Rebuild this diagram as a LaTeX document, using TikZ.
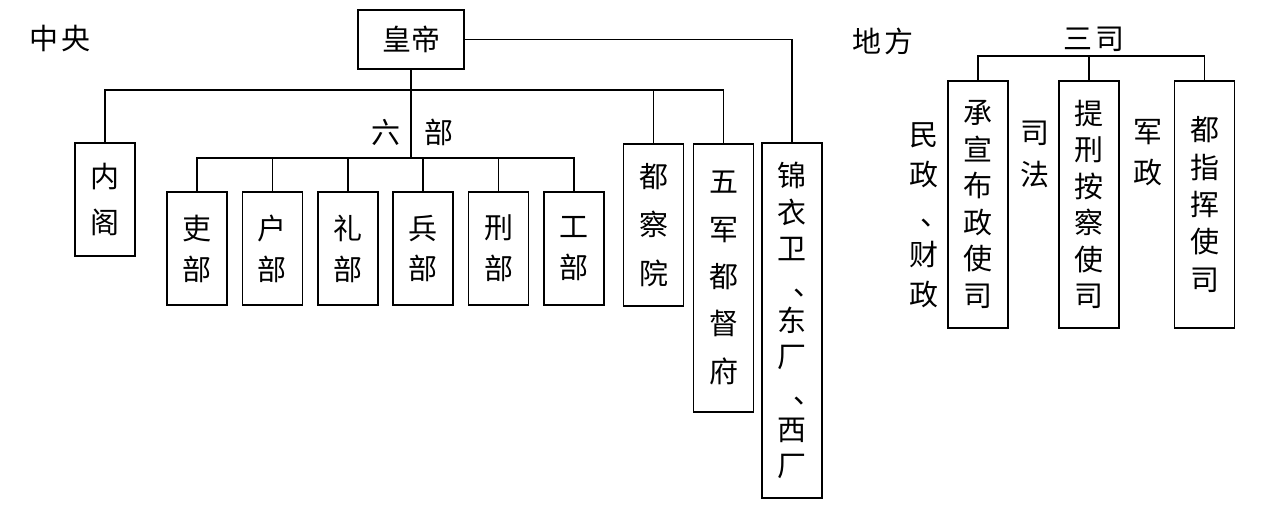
\documentclass[tikz,border=0pt]{standalone}
\usepackage{fontspec}
\newfontfamily\cjk{Noto Sans CJK SC}
\newcommand\dunhao[1]{\hspace{#1}、}

\begin{document}
\begin{tikzpicture}[x=0.02cm, y=-0.02cm, line width=1pt,
  office/.style={draw, inner sep=0pt, minimum width=1.2cm, align=center},
  lead/.style={align=center, font=\cjk\fontsize{16.5}{#1}\selectfont}]
\useasboundingbox (0,0) rectangle (1276,508);
\node[lead=20] (central) at (60,38) {中\hspace{0.08cm}央};
\node[office, lead=20, minimum width=2.12cm, minimum height=1.18cm] (emperor) at (411,39.5) {皇帝};
\node[office, lead=26.2, minimum height=2.26cm] (cabinet) at (105,199.5) {内\\阁};
\foreach \name [count=\i from 0] in {吏,户,礼,兵,刑,工}
  \node[office, lead=23.3, minimum height=2.26cm] (min\i) at (197+75.4*\i,248.5) {\name\\部};
\node[lead=20] (sixlabel) at (412.5,132) {六\hspace{0.48cm}部};
\node[office, lead=27.5, minimum height=3.24cm] (censor) at (653.5,225) {都\\察\\院};
\node[office, lead=27, minimum height=5.36cm] (army5) at (723.5,278) {五\\军\\都\\督\\府};
\node[office, lead=20.6, minimum height=7.1cm] (guard) at (792,320.5)
  {锦\\衣\\卫\\\dunhao{0.62cm}\\东\\厂\\\dunhao{0.62cm}\\西\\厂};

\draw (cabinet.north) -- ++(0,-52) coordinate (topbar) -| (army5.north);
\draw (censor.north) -- (censor.north |- topbar);
\draw (min0.north) -- ++(0,-33) coordinate (sixbar) -| (min5.north);
\foreach \i in {1,...,4}
  \draw (min\i.north) -- (min\i.north |- sixbar);
\draw (emperor.south) -- (emperor.south |- sixbar);
\draw (emperor.east) -| (guard.north);

\node[lead=20] (local) at (883,41) {地\hspace{0.08cm}方};
\node[lead=20] (sansi) at (1094,39) {三\hspace{0.08cm}司};
\node[office, lead=20.8, minimum height=4.94cm] (admin) at (978,204.5) {承\\宣\\布\\政\\使\\司};
\node[office, lead=20.8, minimum height=4.94cm] (judge) at (1089,204.5) {提\\刑\\按\\察\\使\\司};
\node[office, lead=21.3, minimum height=4.94cm] (military) at (1204.5,204.5) {都\\指\\挥\\使\\司};
\node[lead=22.8] (civil) at (924,215) {民\\政\\\dunhao{0.45cm}\\财\\政};
\node[lead=23.9] (law) at (1035,154) {司\\法};
\node[lead=23.3] (armed) at (1148,152.5) {军\\政};

\draw (admin.north) -- ++(0,-24) coordinate (sanbar) -| (military.north);
\draw (judge.north) -- (judge.north |- sanbar);
\end{tikzpicture}
\end{document}
